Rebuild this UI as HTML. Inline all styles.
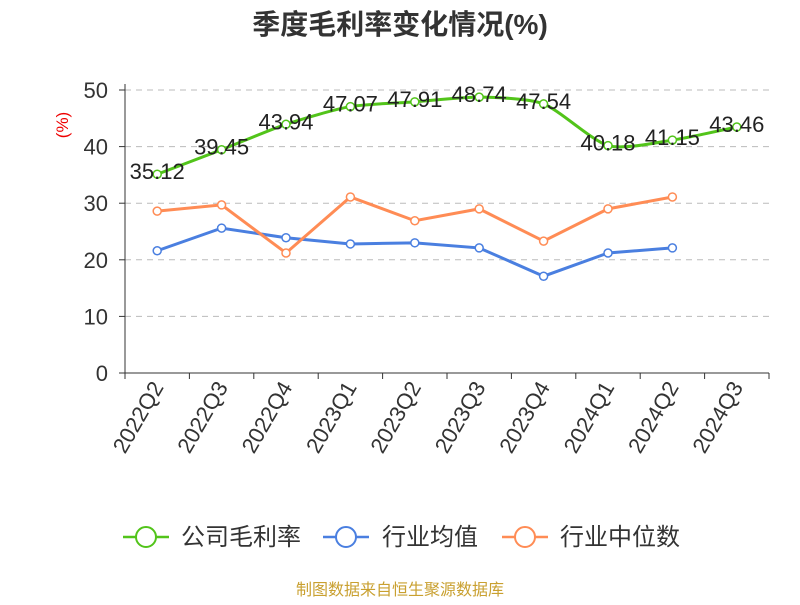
<!DOCTYPE html>
<html><head><meta charset="utf-8"><style>
body{margin:0;background:#fff;font-family:"Liberation Sans","Noto Sans CJK SC",sans-serif}
svg text{font-family:"Liberation Sans","Noto Sans CJK SC",sans-serif}
</style></head><body>
<svg id="c" width="800" height="600">
<text x="400" y="34" text-anchor="middle" font-size="28" font-weight="bold" fill="#333">季度毛利率变化情况(%)</text>
<text transform="translate(68,125) rotate(-90)" text-anchor="middle" font-size="17" fill="#e00">(%)</text>
<g id="grid"></g><g id="series"></g>
<g>
<g><line x1="123" y1="537" x2="169" y2="537" stroke="#52c41a" stroke-width="2.5"/><circle cx="146" cy="537" r="10" fill="#fff" stroke="#52c41a" stroke-width="2"/><text x="181" y="545" font-size="24" fill="#333">公司毛利率</text></g>
<g><line x1="323" y1="537" x2="369" y2="537" stroke="#4a7fe0" stroke-width="2.5"/><circle cx="346" cy="537" r="10" fill="#fff" stroke="#4a7fe0" stroke-width="2"/><text x="382" y="545" font-size="24" fill="#333">行业均值</text></g>
<g><line x1="502" y1="537" x2="548" y2="537" stroke="#ff8c55" stroke-width="2.5"/><circle cx="525" cy="537" r="10" fill="#fff" stroke="#ff8c55" stroke-width="2"/><text x="560" y="545" font-size="24" fill="#333">行业中位数</text></g>
</g>
<text x="400" y="595" text-anchor="middle" font-size="16" fill="#c9a030">制图数据来自恒生聚源数据库</text>
</svg>
<script>
const categories=["2022Q2","2022Q3","2022Q4","2023Q1","2023Q2","2023Q3","2023Q4","2024Q1","2024Q2","2024Q3"];
const company=[35.12,39.45,43.94,47.07,47.91,48.74,47.54,40.18,41.15,43.46];
const industryAvg=[21.6,25.6,23.9,22.8,23.0,22.1,17.1,21.2,22.1];
const industryMedian=[28.6,29.7,21.2,31.1,26.9,29.0,23.3,29.0,31.1];
const yTicks=[0,10,20,30,40,50];
const NS="http://www.w3.org/2000/svg";
const L=125,R=769,T=90,B=373,yMax=50;
const bw=(R-L)/categories.length;
const x=i=>L+bw*(i+0.5);
const y=v=>B-(v/yMax)*(B-T);
function mk(t,a,p){const e=document.createElementNS(NS,t);for(const k in a)e.setAttribute(k,a[k]);p.appendChild(e);return e;}
const g=document.getElementById('grid'),s=document.getElementById('series');
yTicks.forEach(v=>{
 if(v>0){const l=mk('line',{x1:L,x2:R,y1:y(v),y2:y(v),stroke:'#bbb','stroke-dasharray':'6,5'},g);
 
 }
 const t=mk('text',{x:108,y:y(v)+8,'text-anchor':'end','font-size':22,fill:'#333'},g);t.textContent=v;
 
 
 mk('line',{x1:L-6,x2:L,y1:y(v),y2:y(v),stroke:'#333'},g);
});
const ya=mk('line',{x1:L,x2:L,y1:T-6,y2:B,stroke:'#333'},g);


const xa=mk('line',{x1:L,x2:R,y1:B,y2:B,stroke:'#333'},g);


for(let i=0;i<=categories.length;i++)mk('line',{x1:L+bw*i,x2:L+bw*i,y1:B,y2:B+6,stroke:'#333'},g);
categories.forEach((c,i)=>{
 const t=mk('text',{transform:`translate(${x(i)+7},${B+14}) rotate(-60)`,'text-anchor':'end','font-size':22,fill:'#333'},g);t.textContent=c;
 
 
});
function smoothPath(pts){let d=`M${pts[0][0]},${pts[0][1]}`;const k=0.12;
 for(let i=0;i<pts.length-1;i++){const p0=pts[i-1]||pts[i],p1=pts[i],p2=pts[i+1],p3=pts[i+2]||p2;
 d+=` C${p1[0]+(p2[0]-p0[0])*k},${p1[1]+(p2[1]-p0[1])*k} ${p2[0]-(p3[0]-p1[0])*k},${p2[1]-(p3[1]-p1[1])*k} ${p2[0]},${p2[1]}`;}return d;}
function draw(data,color,name,smooth,labels){
 const pts=data.map((v,i)=>[x(i),y(v)]);
 const p=mk('path',{d:smooth?smoothPath(pts):'M'+pts.map(q=>q.join(',')).join(' L'),fill:'none',stroke:color,'stroke-width':3},s);
 
 
 pts.forEach((q,i)=>{const c=mk('circle',{cx:q[0],cy:q[1],r:4,fill:'#fff',stroke:color,'stroke-width':1.5},s);
 
 
 if(labels){const t=mk('text',{x:q[0],y:q[1]+5,'text-anchor':'middle','font-size':22,fill:'#222'},s);t.textContent=data[i].toFixed(2);
 
 }});
}
draw(industryAvg,'#4a7fe0','industry-avg',false,false);
draw(industryMedian,'#ff8c55','industry-median',false,false);
draw(company,'#52c41a','company-margin',true,true);
</script>
</body></html>
